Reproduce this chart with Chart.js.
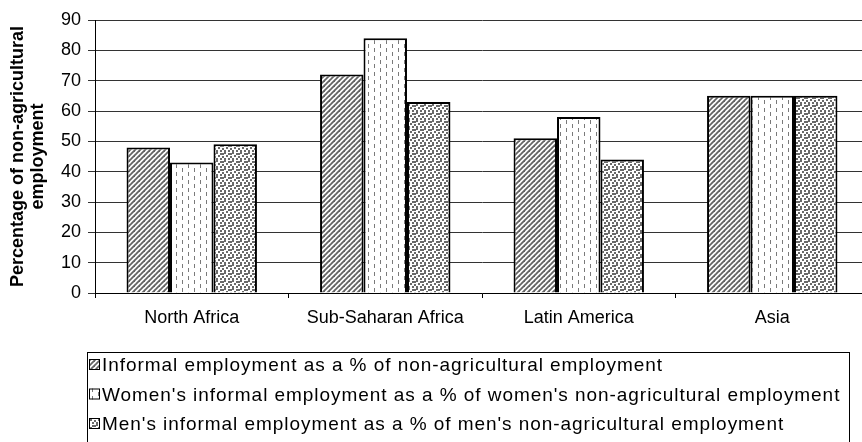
<!DOCTYPE html>
<html>
<head>
<meta charset="utf-8">
<script src="https://cdn.jsdelivr.net/npm/chart.js@4.4.1/dist/chart.umd.min.js"></script>
<style>
  html, body { margin: 0; padding: 0; background: #fff; overflow: hidden; }
  #wrap { position: relative; width: 880px; height: 442px; }
</style>
</head>
<body>
<div id="wrap"><canvas id="chart" width="880" height="442"></canvas></div>
<script>
// Regions on the category axis
const regions = ['North Africa', 'Sub-Saharan Africa', 'Latin America', 'Asia'];

// Series names (legend entries)
const seriesNames = [
  'Informal employment as a % of non-agricultural employment',
  "Women's informal employment as a % of women's non-agricultural employment",
  "Men's informal employment as a % of men's non-agricultural employment"
];

// Informal employment shares, % of non-agricultural employment
const totalShare = [48, 72, 51, 65];
const womenShare = [43, 84, 58, 65];
const menShare   = [49, 63, 44, 65];

// Value axis
const yMin = 0;
const yMax = 90;
const yStep = 10;

const FONT = "'Liberation Sans', Arial, Helvetica, sans-serif";

// Monochrome fill patterns for the three series
function makePattern(kind) {
  const tile = document.createElement('canvas');
  const g = tile.getContext('2d');
  if (kind === 'diagonal') {
    const s = 5;
    tile.width = s; tile.height = s;
    g.fillStyle = '#fff'; g.fillRect(0, 0, s, s);
    g.strokeStyle = '#646464'; g.lineWidth = 1.8;
    for (let k = -1; k <= 1; k++) {
      g.beginPath();
      g.moveTo(k * s - 1, s + 1);
      g.lineTo(k * s + s + 1, -1);
      g.stroke();
    }
  } else if (kind === 'dashes') {
    tile.width = 12; tile.height = 8;
    g.fillStyle = '#fff'; g.fillRect(0, 0, 12, 8);
    g.fillStyle = '#7a7a7a';
    g.fillRect(2, 0, 1, 4);
    g.fillRect(8, 4, 1, 4);
  } else {
    tile.width = 8; tile.height = 8;
    g.fillStyle = '#fff'; g.fillRect(0, 0, 8, 8);
    g.fillStyle = '#6a6a6a';
    [[0, 0], [4, 1], [2, 3], [6, 4], [0, 6], [4, 6], [6, 1]].forEach(([x, y]) => g.fillRect(x, y, 2, 2));
  }
  const ctx = document.getElementById('chart').getContext('2d');
  return ctx.createPattern(tile, 'repeat');
}

const fills = [makePattern('diagonal'), makePattern('dashes'), makePattern('dots')];
const seriesValues = [totalShare, womenShare, menShare];

// Boxed legend below the plot
const boxedLegend = {
  id: 'boxedLegend',
  afterDraw(chart) {
    const ctx = chart.ctx;
    const box = { left: 87.5, top: 352.5, right: 849.5, bottom: 456 };
    const baselines = [371, 400.5, 430];
    ctx.save();
    ctx.strokeStyle = '#000';
    ctx.lineWidth = 1;
    ctx.strokeRect(box.left, box.top, box.right - box.left, box.bottom - box.top);
    ctx.font = '19px ' + FONT;
    if ('letterSpacing' in ctx) ctx.letterSpacing = '0.95px';
    ctx.textBaseline = 'alphabetic';
    ctx.textAlign = 'left';
    chart.data.datasets.forEach((ds, i) => {
      const by = baselines[i];
      ctx.fillStyle = ds.backgroundColor;
      ctx.fillRect(89, by - 12, 11, 11);
      ctx.strokeStyle = '#000';
      ctx.strokeRect(89.5, by - 11.5, 10, 10);
      ctx.fillStyle = '#000';
      ctx.fillText(ds.label, 102, by);
    });
    ctx.restore();
  }
};

new Chart(document.getElementById('chart'), {
  type: 'bar',
  data: {
    labels: regions,
    datasets: seriesNames.map((name, i) => ({
      label: name,
      data: seriesValues[i],
      backgroundColor: fills[i],
      borderColor: '#000',
      borderWidth: 2,
      barPercentage: 1,
      categoryPercentage: 0.674
    }))
  },
  options: {
    responsive: false,
    animation: false,
    events: [],
    layout: { padding: { left: 0, top: 20, right: 11, bottom: 0 } },
    plugins: {
      legend: { display: false },
      tooltip: { enabled: false }
    },
    scales: {
      x: {
        offset: true,
        grid: { drawOnChartArea: false, offset: true, tickLength: 5, color: '#000' },
        border: { color: '#000', width: 1 },
        ticks: { color: '#000', font: { family: FONT, size: 18 }, padding: 9, maxRotation: 0 },
        afterFit(scale) { scale.height = 149; }
      },
      y: {
        min: yMin,
        max: yMax,
        grid: { color: '#333', tickLength: 7 },
        border: { color: '#000', width: 1 },
        ticks: { stepSize: yStep, color: '#000', font: { family: FONT, size: 18 }, padding: 7 },
        title: {
          display: true,
          text: ['Percentage of non-agricultural', 'employment'],
          color: '#000',
          font: { family: FONT, size: 18, weight: 'bold', lineHeight: 1.1 },
          padding: { top: 8, bottom: 0 }
        },
        afterFit(scale) { scale.width = 95; }
      }
    }
  },
  plugins: [boxedLegend]
});
</script>
</body>
</html>
